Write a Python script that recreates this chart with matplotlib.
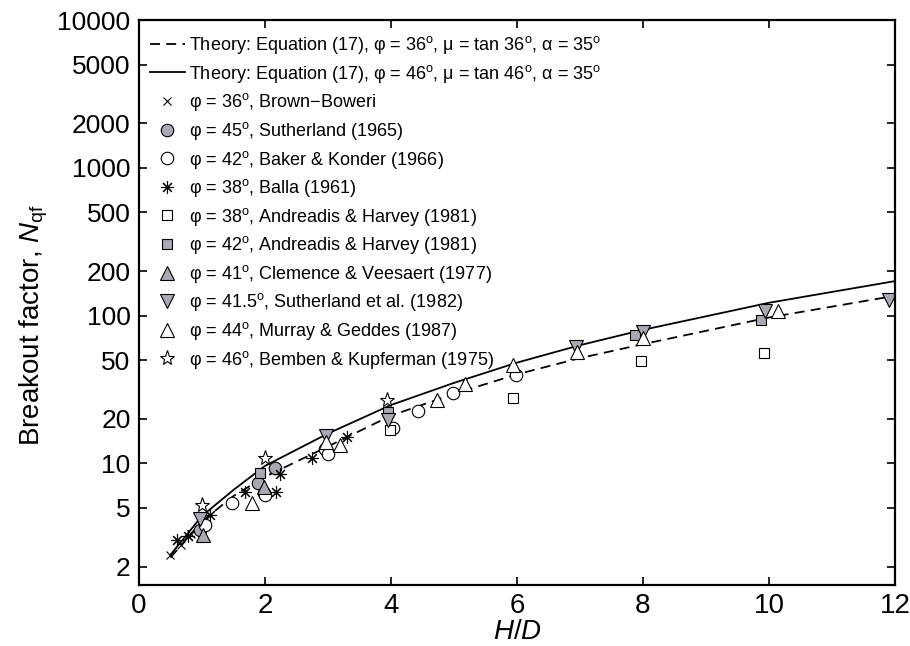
import numpy as np
import matplotlib
matplotlib.use('Agg')
import matplotlib.pyplot as plt

plt.rcParams['font.family'] = ['Liberation Sans', 'DejaVu Sans']
plt.rcParams['mathtext.fontset'] = 'custom'
plt.rcParams['mathtext.rm'] = 'Liberation Sans'
plt.rcParams['mathtext.it'] = 'Liberation Sans:italic'

# theory curves, Equation (17)
hd_theory = [0.5, 1.0, 1.5, 2.0, 3.0, 4.0, 5.0, 6.0, 7.0, 8.0, 10.0, 12.0]
nqf_phi36 = [2.3, 4.05, 6.0, 8.1, 13.0, 21.0, 29.5, 40.0, 51.5, 64.0, 97.0, 136.0]
nqf_phi46 = [2.4, 4.4, 6.6, 9.6, 15.9, 24.8, 35.0, 48.0, 63.0, 80.0, 122.0, 171.0]

# test data
brown_hd = [0.5, 0.67, 0.83]
brown_nq = [2.4, 2.8, 3.3]
suth65_hd = [0.97, 1.89, 2.16]
suth65_nq = [3.55, 7.4, 9.25]
baker_hd = [1.05, 1.47, 1.98, 2.0, 2.95, 3.0, 4.04, 4.43, 4.99, 5.98]
baker_nq = [3.83, 5.42, 6.27, 6.1, 12.5, 11.5, 17.2, 22.7, 29.7, 39.5]
balla_hd = [0.6, 0.78, 1.13, 1.68, 2.17, 2.24, 2.74, 3.3]
balla_nq = [3.03, 3.2, 4.47, 6.37, 6.37, 8.5, 10.8, 15.0]
ah38_hd = [3.98, 5.93, 7.97, 9.92]
ah38_nq = [16.8, 27.7, 49.1, 55.9]
ah42_hd = [1.92, 3.96, 7.87, 9.87]
ah42_nq = [8.56, 22.3, 73.6, 93.0]
clem_hd = [1.02, 1.98]
clem_nq = [3.28, 6.95]
suth82_hd = [0.97, 2.97, 3.96, 6.94, 8.0, 9.94, 11.9]
suth82_nq = [4.19, 15.3, 19.6, 61.4, 77.5, 107.4, 126.9]
murray_hd = [1.8, 2.97, 3.19, 4.73, 5.17, 5.94, 6.95, 8.0, 10.15]
murray_nq = [5.42, 14.0, 13.3, 26.8, 34.2, 46.2, 57.0, 71.0, 108.0]
bemben_hd = [1.0, 2.0, 3.93]
bemben_nq = [5.2, 10.8, 26.8]

yticks = [2, 5, 10, 20, 50, 100, 200, 500, 1000, 2000, 5000, 10000]
xticks = [0, 2, 4, 6, 8, 10, 12]

gray = '#a9a9b3'
deg = r'$^{\rm o}$'

fig = plt.figure(figsize=(9.1, 6.46), dpi=100)
ax = fig.add_axes([0.1527, 0.0944, 0.8308, 0.8746])

ax.plot(hd_theory, nqf_phi36, 'k', ls=(0, (5.5, 3.5)), lw=1.3,
        label='Theory: Equation (17), φ = 36' + deg + ', μ = tan 36' + deg + ', α = 35' + deg)
ax.plot(hd_theory, nqf_phi46, 'k-', lw=1.3,
        label='Theory: Equation (17), φ = 46' + deg + ', μ = tan 46' + deg + ', α = 35' + deg)

mk = dict(ls='none', mec='k', mew=0.8)
ax.plot(brown_hd, brown_nq, marker='x', color='k', ms=6, label='φ = 36' + deg + ', Brown−Boweri', **mk)
ax.plot(suth65_hd, suth65_nq, marker='o', mfc=gray, ms=9, label='φ = 45' + deg + ', Sutherland (1965)', **mk)
ax.plot(baker_hd, baker_nq, marker='o', mfc='w', ms=9, label='φ = 42' + deg + ', Baker & Konder (1966)', **mk)
ax.plot(balla_hd, balla_nq, marker=(8, 2, 0), color='k', ms=9, label='φ = 38' + deg + ', Balla (1961)', **mk)
ax.plot(ah38_hd, ah38_nq, marker='s', mfc='w', ms=7.5, label='φ = 38' + deg + ', Andreadis & Harvey (1981)', **mk)
ax.plot(ah42_hd, ah42_nq, marker='s', mfc=gray, ms=7.5, label='φ = 42' + deg + ', Andreadis & Harvey (1981)', **mk)
ax.plot(clem_hd, clem_nq, marker='^', mfc=gray, ms=10, label='φ = 41' + deg + ', Clemence & Veesaert (1977)', **mk)
ax.plot(suth82_hd, suth82_nq, marker='v', mfc=gray, ms=10, label='φ = 41.5' + deg + ', Sutherland et al. (1982)', **mk)
ax.plot(murray_hd, murray_nq, marker='^', mfc='w', ms=10, label='φ = 44' + deg + ', Murray & Geddes (1987)', **mk)
ax.plot(bemben_hd, bemben_nq, marker='*', mfc='w', ms=11, label='φ = 46' + deg + ', Bemben & Kupferman (1975)', **mk)

ax.set_yscale('log')
ax.set_xlim(0, 12)
ax.set_ylim(1.5, 10000)
ax.set_yticks(yticks)
ax.set_yticklabels([str(v) for v in yticks], fontsize=19)
ax.yaxis.set_minor_locator(matplotlib.ticker.NullLocator())
ax.set_xticks(xticks)
ax.set_xticklabels([str(v) for v in xticks], fontsize=20)
ax.tick_params(which='both', direction='in', top=True, right=True, length=6, width=1.2, pad=6)
for s in ax.spines.values():
    s.set_linewidth(1.6)

ax.set_xlabel('$H$/$D$', fontsize=20, labelpad=0)
ax.set_ylabel('Breakout factor, $N_{\\rm qf}$', fontsize=20)
ax.yaxis.set_label_coords(-0.118, 0.46)

ax.legend(loc='upper left', bbox_to_anchor=(0.014, 0.975), frameon=False, fontsize=13,
          numpoints=1, handlelength=1.94, handletextpad=0.22, labelspacing=0.365,
          borderpad=0, borderaxespad=0)

fig.savefig('out.png', dpi=100)
